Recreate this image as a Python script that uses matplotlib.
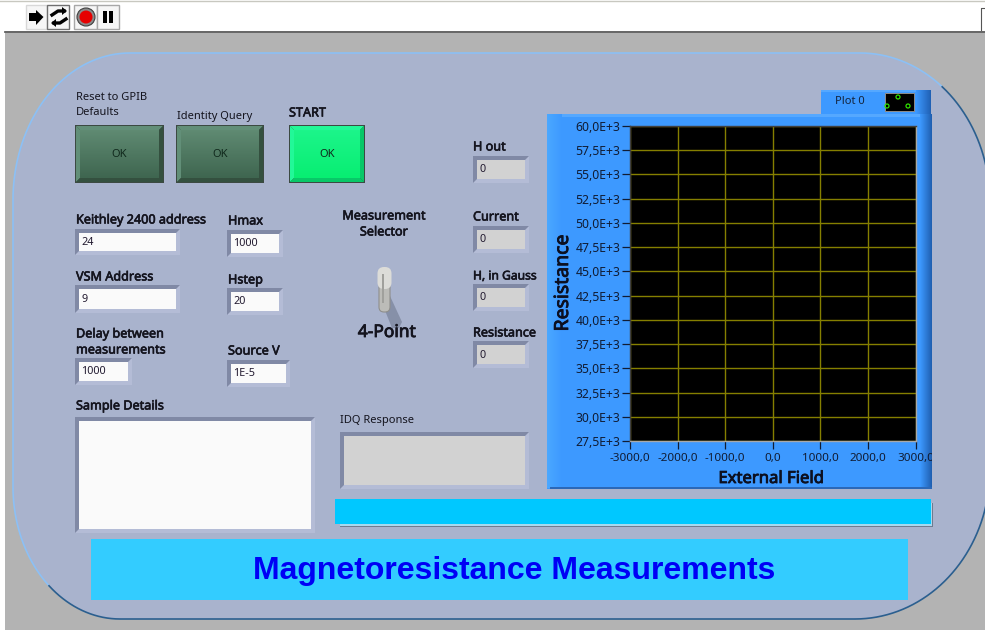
import numpy as np
import matplotlib
matplotlib.use("Agg")
import matplotlib.pyplot as plt
import matplotlib.patheffects as pe
from matplotlib.patches import Rectangle, Polygon, Circle, FancyBboxPatch

# chart values
x_ticks = [-3000, -2000, -1000, 0, 1000, 2000, 3000]
x_labels = ['-3000,0', '-2000,0', '-1000,0', '0,0', '1000,0', '2000,0', '3000,0']
y_ticks = [27500, 30000, 32500, 35000, 37500, 40000, 42500, 45000, 47500,
           50000, 52500, 55000, 57500, 60000]
y_labels = ['27,5E+3', '30,0E+3', '32,5E+3', '35,0E+3', '37,5E+3', '40,0E+3', '42,5E+3',
            '45,0E+3', '47,5E+3', '50,0E+3', '52,5E+3', '55,0E+3', '57,5E+3', '60,0E+3']
field_values = []
resistance_values = []

title = 'Magnetoresistance Measurements'
input_values = ['24', '9', '1000', '1000', '20', '1E-5']
output_values = ['0', '0', '0', '0']

plt.rcParams['font.family'] = ['Noto Sans', 'DejaVu Sans']

W, H = 985, 635
fig = plt.figure(figsize=(W / 100, H / 100), dpi=100, facecolor='white')
bg = fig.add_axes([0, 0, 1, 1])
bg.set_xlim(0, W)
bg.set_ylim(H, 0)
bg.axis('off')


def rect(x0, y0, x1, y1, color, z=1):
    p = Rectangle((x0, y0), x1 - x0, y1 - y0, facecolor=color, edgecolor='none', zorder=z)
    bg.add_patch(p)
    return p


def gradient(x0, y0, x1, y1, c0, c1, z, horizontal=False):
    c0 = np.array(matplotlib.colors.to_rgb(c0))
    c1 = np.array(matplotlib.colors.to_rgb(c1))
    t = np.linspace(0, 1, 40)
    if horizontal:
        grad = t[None, :, None] * (c1 - c0) + c0
    else:
        grad = t[:, None, None] * (c1 - c0) + c0
    bg.imshow(grad, extent=(x0, x1, y1, y0), aspect='auto', zorder=z)


def box(x0, y0, x1, y1, fill, text=None):
    # sunken LabVIEW control
    rect(x0, y0, x1, y1, '#b4bcd6', 3)
    bg.add_patch(Polygon([(x0, y0), (x1, y0), (x1 - 4, y0 + 4), (x0 + 4, y0 + 4), (x0 + 4, y1 - 4), (x0, y1)],
                         facecolor='#8089a5', edgecolor='none', zorder=4))
    rect(x0 + 4, y0 + 4, x1 - 4, y1 - 4, fill, 5)
    if text:
        bg.text(x0 + 6, (y0 + y1) / 2 + 0.5, text, fontsize=7.8, color='#221a30', va='center', zorder=6)


def button(x0, y0, x1, y1, top, bottom, hi, lo):
    rect(x0, y0, x1, y1, '#3c4a42', 3)
    b = 5
    bg.add_patch(Polygon([(x0 + 1, y0 + 1), (x1 - 1, y0 + 1), (x1 - b, y0 + b), (x0 + b, y0 + b)], facecolor=hi, edgecolor='none', zorder=4))
    bg.add_patch(Polygon([(x0 + 1, y0 + 1), (x0 + b, y0 + b), (x0 + b, y1 - b), (x0 + 1, y1 - 1)], facecolor=hi, edgecolor='none', zorder=4))
    bg.add_patch(Polygon([(x1 - 1, y0 + 1), (x1 - 1, y1 - 1), (x1 - b, y1 - b), (x1 - b, y0 + b)], facecolor=lo, edgecolor='none', zorder=4))
    bg.add_patch(Polygon([(x0 + 1, y1 - 1), (x1 - 1, y1 - 1), (x1 - b, y1 - b), (x0 + b, y1 - b)], facecolor=lo, edgecolor='none', zorder=4))
    gradient(x0 + b, y0 + b, x1 - b, y1 - b, top, bottom, 5)
    bg.text((x0 + x1) / 2, (y0 + y1) / 2 + 0.5, 'OK', fontsize=8, color='#10281c', ha='center', va='center', zorder=6)


def label(x, y, s, bold=True, size=9.1, ha='left', color='#14141e', rotation=0, stroke=0.45, spacing=1.3):
    t = bg.text(x, y, s, fontsize=size, color=color, ha=ha, va='center', rotation=rotation,
                linespacing=spacing, zorder=6)
    # Noto Sans has no bold cut here, so thicken the regular one
    if bold:
        t.set_path_effects([pe.withStroke(linewidth=stroke, foreground=color)])
    return t


def arc(cx, cy, rx, ry, a0, a1):
    t = np.radians(np.linspace(a0, a1, 40))
    return np.column_stack([cx + rx * np.cos(t), cy + ry * np.sin(t)])


# window
rect(5, 33, W, 630, '#b3b3b3', 0)
bg.plot([0, W], [1, 1], color='#c8c8c0', lw=1, zorder=1)
bg.plot([5, W], [32, 32], color='#4a4a4a', lw=1.2, zorder=1)
rect(981, 8, W, 30, 'white', 1)
bg.plot([981, 981, W], [30, 8, 8], color='#555555', lw=0.8, zorder=1)

# rounded front panel, runs off the right edge
left, right, top_y, bot_y = 13, 990, 53, 619
tl = arc(left + 117, top_y + 147, 117, 147, 180, 270)
tr = arc(right - 130, top_y + 150, 130, 150, 270, 360)
br = arc(right - 135, bot_y - 150, 135, 150, 0, 90)
bl = arc(left + 107, bot_y - 132, 107, 132, 90, 180)
outline = np.vstack([tl, tr, br, bl])
bg.add_patch(Polygon(outline, closed=True, facecolor='#a9b3cd', edgecolor='none', zorder=1))
light = np.vstack([bl[18:], tl, tr[:18]])
dark = np.vstack([tr[17:], br, bl[:19]])
bg.plot(light[:, 0], light[:, 1], color='#8cc0f5', lw=1.2, zorder=2)
bg.plot(dark[:, 0], dark[:, 1], color='#2b5f8f', lw=1.2, zorder=2)

# toolbar icons
for x0, x1, ec in [(26, 47, '#d8d8d8'), (47, 69, '#707070'), (74, 97, '#a8a8a8'), (97, 119, '#a8a8a8')]:
    bg.add_patch(Rectangle((x0, 5), x1 - x0, 24, facecolor='#f6f6f6', edgecolor=ec, lw=1, zorder=2))
bg.add_patch(Polygon([(29, 13), (36, 13), (36, 10), (43.5, 17), (36, 25), (36, 21), (29, 21)], facecolor='black', edgecolor='none', zorder=3))
bg.plot([52, 58, 64], [15, 11, 11], color='black', lw=2.4, zorder=3)
bg.add_patch(Polygon([(62, 7), (67, 11), (62, 15)], facecolor='black', edgecolor='none', zorder=3))
bg.plot([66, 60, 54], [19, 23, 23], color='black', lw=2.4, zorder=3)
bg.add_patch(Polygon([(56, 19), (51, 23), (56, 27)], facecolor='black', edgecolor='none', zorder=3))
bg.add_patch(Circle((86, 17), 9, facecolor='#8a8a8a', edgecolor='#404040', lw=0.8, zorder=3))
bg.add_patch(Circle((86, 17), 6.5, facecolor='#e60000', edgecolor='none', zorder=4))
rect(103, 11, 107, 23, 'black', 3)
rect(108.5, 11, 113, 23, 'black', 3)

# buttons
label(76, 105, 'Reset to GPIB\nDefaults', bold=False, size=8, spacing=1.45)
label(177, 116, 'Identity Query', bold=False, size=8)
label(289, 113, 'START')
button(75, 125, 164, 183, '#5f8a72', '#3f6650', '#628f78', '#34503f')
button(176, 125, 264, 183, '#5f8a72', '#3f6650', '#628f78', '#34503f')
button(289, 125, 365, 183, '#1cf58a', '#08ee72', '#22f898', '#08c868')

# inputs
label(76, 220, 'Keithley 2400 address')
box(75, 229, 180, 255, '#fafafa', input_values[0])
label(76, 277, 'VSM Address')
box(75, 285, 180, 313, '#fafafa', input_values[1])
label(76, 342, 'Delay between\nmeasurements')
box(75, 358, 132, 385, '#fafafa', input_values[2])
label(228, 221, 'Hmax')
box(227, 230, 283, 257, '#fafafa', input_values[3])
label(228, 280, 'Hstep')
box(227, 288, 283, 315, '#fafafa', input_values[4])
label(228, 351, 'Source V')
box(227, 360, 290, 387, '#fafafa', input_values[5])

# selector switch
label(384, 224, 'Measurement\nSelector', ha='center')
bg.add_patch(Polygon([(384, 308), (390, 296), (402, 322), (399, 328), (392, 328)], facecolor='#8690a8', edgecolor='none', zorder=2))
bg.add_patch(FancyBboxPatch((379, 275), 11, 37, boxstyle='round,pad=0,rounding_size=5', facecolor='#bcbcb8', edgecolor='#8f8f8c', lw=0.8, zorder=3))
bg.add_patch(FancyBboxPatch((377.5, 267), 14, 22, boxstyle='round,pad=0,rounding_size=6.5', facecolor='#dcdcd8', edgecolor='none', zorder=3))
rect(382, 274, 384, 303, '#a0a09c', 4)
label(387, 332, '4-Point', size=12.5, ha='center', stroke=0.6)

# indicators
label(473, 147, 'H out')
box(473, 156, 529, 183, '#d2d2d2', output_values[0])
label(473, 217, 'Current')
box(473, 226, 529, 253, '#d2d2d2', output_values[1])
label(473, 276, 'H, in Gauss', size=8.7)
box(473, 284, 529, 311, '#d2d2d2', output_values[2])
label(473, 333, 'Resistance')
box(473, 341, 529, 368, '#d2d2d2', output_values[3])

# text boxes
label(76, 406, 'Sample Details')
box(75, 417, 315, 533, '#fafafa')
label(340, 420, 'IDQ Response', bold=False, size=8)
box(340, 432, 529, 489, '#d2d2d2')

# status bar and title band
rect(340, 503, 933, 527, '#6f7b8f', 2)
rect(340, 503, 932, 526, '#a8d8ee', 2)
rect(335, 499, 931, 524, '#00c8ff', 3)
rect(91, 539, 908, 600, '#33ccff', 2)
bg.text(514, 571.5, title, fontsize=23, fontweight='bold', family='Liberation Sans', color='#0000f5',
        ha='center', va='center', zorder=6)

# graph frame
rect(547, 114, 932, 489, '#3d99ff', 2)
rect(547, 114, 932, 117, '#55a8ff', 3)
gradient(547, 114, 562, 488, '#4ba8ff', '#3d99ff', 3, horizontal=True)
gradient(920, 114, 932, 488, '#3d99ff', '#1f5fb0', 3, horizontal=True)
rect(550, 487, 932, 489, '#2b68b8', 4)
rect(821, 90, 931, 114, '#3d99ff', 2)
rect(821, 90, 931, 92, '#55a8ff', 3)
gradient(916, 90, 931, 114, '#3d99ff', '#2060b4', 3, horizontal=True)
bg.text(835, 102, 'Plot 0', fontsize=8, color='#14243c', va='center', zorder=6)
rect(885, 93, 915, 112, '#8a8a8a', 4)
rect(886, 94, 914, 111, 'black', 5)
for cx, cy in [(898, 97), (887, 106), (908, 106)]:
    bg.add_patch(Circle((cx, cy), 2, facecolor='none', edgecolor='#30e000', lw=0.9, zorder=6))

bg.set_xlim(0, W)
bg.set_ylim(H, 0)

# the graph itself
ax = fig.add_axes([630 / W, 1 - 441 / H, 285.5 / W, 315 / H], zorder=2)
ax.set_facecolor('black')
ax.plot(field_values, resistance_values, color='white')
ax.set_xlim(-3000, 3000)
ax.set_ylim(27500, 60000)
ax.set_xticks(x_ticks)
ax.set_xticklabels(x_labels, fontsize=8.4, color='#101c34')
ax.set_yticks(y_ticks)
ax.set_yticklabels(y_labels, fontsize=8.8, color='#101c34')
ax.grid(True, color='#857f00', lw=1)
ax.set_axisbelow(True)
ax.tick_params(axis='x', length=6, width=0.9, color='#101c34', pad=3)
ax.tick_params(axis='y', length=6, width=0.9, color='#101c34', pad=1)
for name, spine in ax.spines.items():
    spine.set_color('#a8a8a8' if name in ('right', 'bottom') else '#404040')
    spine.set_linewidth(1)

# last x label is cut by the frame
clip = Rectangle((547, 114), 385, 375, transform=bg.transData)
for t in ax.get_xticklabels():
    t.set_clip_path(clip)
    t.set_clip_on(True)

label(771, 479, 'External Field', size=12, ha='center', color='#0c1020', stroke=0.6)
label(563, 283, 'Resistance', size=14, ha='center', color='#0c1020', rotation=90, stroke=0.6)

fig.savefig('out.png', dpi=100)
